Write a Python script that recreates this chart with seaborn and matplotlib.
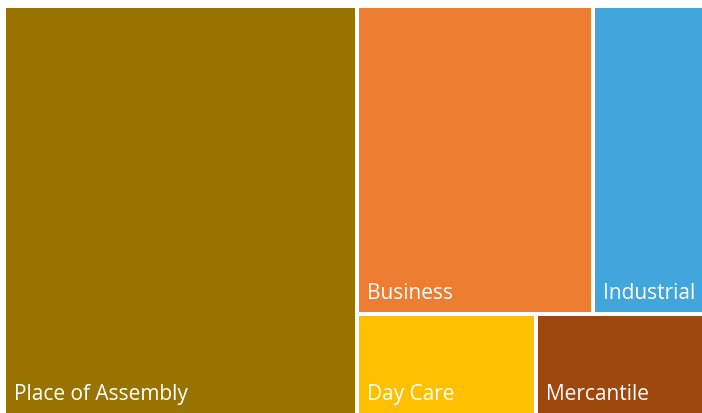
import matplotlib
matplotlib.use("Agg")
import matplotlib.pyplot as plt
import seaborn as sns

sns.set_style("white")
plt.rcParams['font.family'] = ['Open Sans', 'DejaVu Sans']

# Occupancy types and their counts
categories = ["Place of Assembly", "Business", "Industrial", "Day Care", "Mercantile"]
values = [254, 128, 60, 32, 30]
colors = ["#997300", "#ED7D31", "#42A6DC", "#FFC000", "#9E480E"]

# Layout: the largest item takes a full-height column on the left;
# the rest fill the remaining space in rows of two.
row_groups = [[1, 2], [3, 4]]


def treemap_layout(vals, groups):
    total = float(sum(vals))
    rects = {}
    w0 = vals[0] / total
    rects[0] = (0.0, 0.0, w0, 1.0)
    rest = total - vals[0]
    top = 1.0
    for grp in groups:
        gsum = sum(vals[i] for i in grp)
        h = gsum / rest
        x = w0
        for i in grp:
            w = (1.0 - w0) * vals[i] / gsum
            rects[i] = (x, top - h, w, h)
            x += w
        top -= h
    return [rects[i] for i in range(len(vals))]


W, H = 702, 413
fig = plt.figure(figsize=(W / 100, H / 100), dpi=100)
ax = fig.add_axes([4 / W, -2 / H, 700 / W, 409 / H])
ax.set_xlim(0, 1)
ax.set_ylim(0, 1)
ax.axis("off")

rects = treemap_layout(values, row_groups)
gap_pt = 4 * 72 / 100
for (x, y, w, h), name, c in zip(rects, categories, colors):
    ax.bar(x, h, width=w, bottom=y, align="edge", color=c,
           edgecolor="white", linewidth=gap_pt)
    ax.annotate(name, xy=(x, y), xytext=(10 * 0.72, 15 * 0.72),
                textcoords="offset points", ha="left", va="baseline",
                color="white", fontsize=15)

fig.savefig("out.png", dpi=100)
